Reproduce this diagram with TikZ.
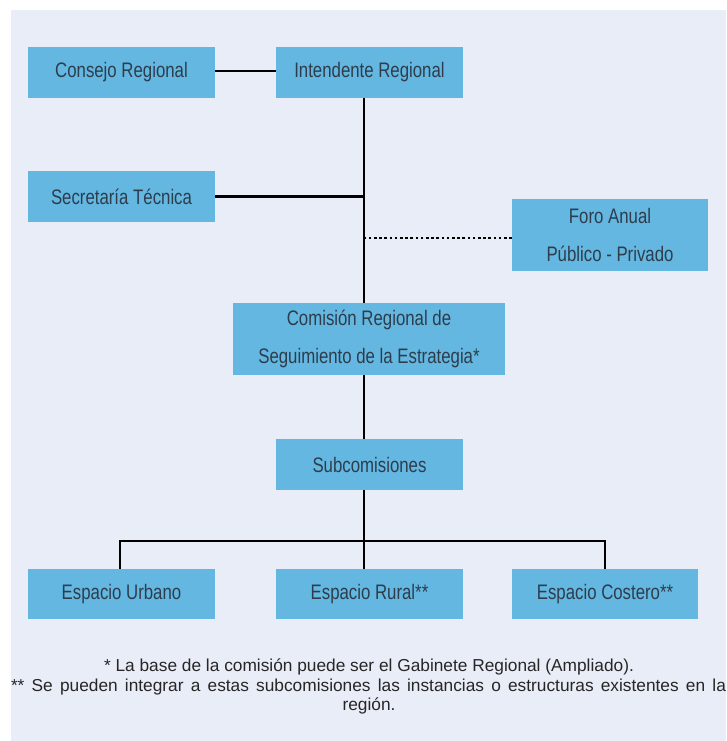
\documentclass[tikz,border=0pt]{standalone}
\usepackage{fontspec}
\setmainfont{Liberation Sans}
\newfontfamily\condfont{Liberation Sans}[FakeStretch=0.8]
\usetikzlibrary{positioning}
\definecolor{bgpanel}{HTML}{E9EDF8}
\definecolor{boxblue}{HTML}{63B7E1}
\definecolor{boxtext}{HTML}{2E3D4C}

\begin{document}
\begin{tikzpicture}[
  x=1pt,y=-1pt,
  unit/.style={fill=boxblue,inner sep=0pt,minimum width=187pt,minimum height=51pt,
    font=\condfont\fontsize{21}{37.5}\selectfont,text=boxtext,align=center},
  wideunit/.style={unit,minimum height=72pt},
  link/.style={draw=black,line width=2.8pt},
  dotlink/.style={link,line width=2.6pt,dash pattern=on 2.6pt off 2.6pt},
  note/.style={font=\fontsize{17.3}{19.5}\selectfont,text=black!85,inner sep=0pt},
]

\useasboundingbox (0,0) rectangle (726,741);
\fill[bgpanel] (11,10) rectangle (726,741);

% top level
\node[unit] (consejo) at (121.5,72.5) {Consejo Regional};
\node[unit] (intendente) at (369.5,72.5) {Intendente Regional};
\node[unit] (secretaria) at (121.5,196.5) {Secretaría Técnica};
\node[wideunit,minimum width=196pt] (foro) at (610,235) {Foro Anual\\Público - Privado};

% commission
\node[wideunit,minimum width=272pt] (comision) at (369,339)
  {Comisión Regional de\\Seguimiento de la Estrategia*};
\node[unit] (subcom) at (369.5,464.5) {Subcomisiones};

% spaces
\node[unit,minimum height=50pt] (urbano) at (121.5,594) {Espacio Urbano};
\node[unit,minimum height=50pt] (rural) at (369.5,594) {Espacio Rural**};
\node[unit,minimum height=50pt,minimum width=186pt] (costero) at (605,594) {Espacio Costero**};

\coordinate (trunk) at ([xshift=-5.5pt]intendente.south);
\coordinate (bus) at (364,541);

\draw[link] (consejo.east |- 0,71) -- (intendente.west |- 0,71);
\draw[link] (trunk) -- (trunk |- comision.north);
\draw[link] (secretaria.east) -- (secretaria.east -| trunk);
\draw[dotlink] (foro.west |- 0,238) -- (trunk |- 0,238);
\draw[link] (trunk |- comision.south) -- (trunk |- subcom.north);
\draw[link] (trunk |- subcom.south) -- (bus);
\draw[link] ([xshift=-1.5pt]urbano.north) |- (bus) -| ([xshift=0pt]costero.north);
\draw[link] (bus) -- (trunk |- rural.north);

% notes
\node[note] (nota1) at (369,667) {* La base de la comisión puede ser el Gabinete Regional (Ampliado).};
\node[note] (nota2) at (368.5,687) {\makebox[715pt][s]{** Se pueden integrar a estas subcomisiones las instancias o estructuras existentes en la}};
\node[note] (nota3) at (369,706) {región.};

\end{tikzpicture}
\end{document}
